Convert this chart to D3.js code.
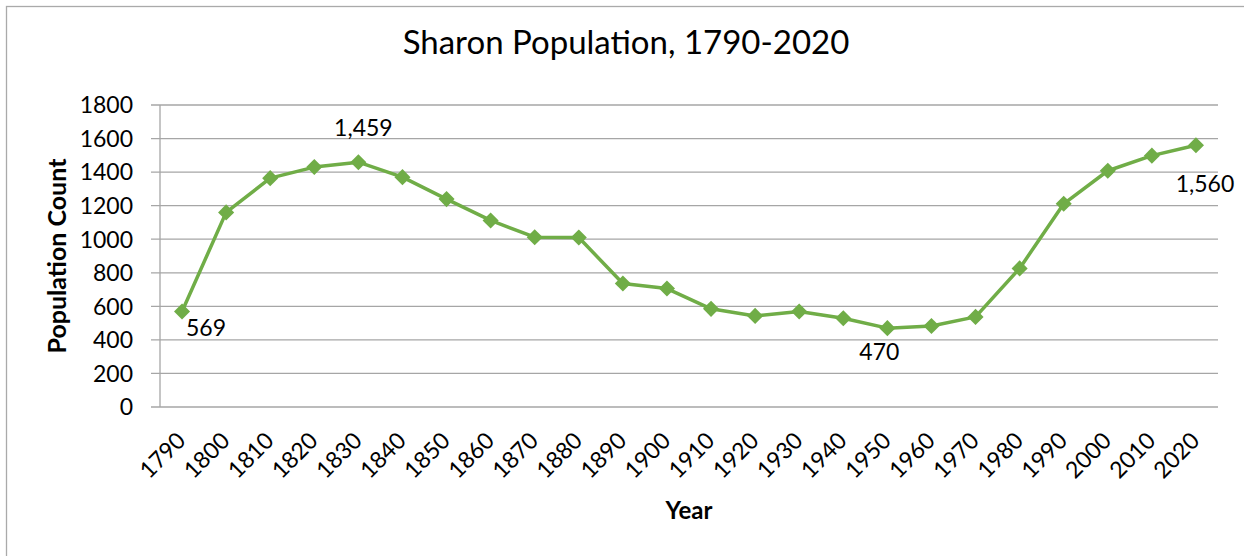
<!DOCTYPE html>
<html>
<head>
<meta charset="utf-8">
<script src="https://cdn.jsdelivr.net/npm/d3@7"></script>
<style>
  body { margin: 0; background: #fff; }
  text { font-family: Lato, "Open Sans", sans-serif; fill: #000; }
</style>
</head>
<body>
<svg id="chart"></svg>
<script>
// data
const years = ['1790', '1800', '1810', '1820', '1830', '1840', '1850', '1860', '1870', '1880', '1890', '1900',
  '1910', '1920', '1930', '1940', '1950', '1960', '1970', '1980', '1990', '2000', '2010', '2020'];
const population = [569, 1160, 1364, 1430, 1459, 1370, 1239, 1112, 1012, 1010, 736, 706,
  585, 543, 569, 529, 470, 483, 537, 826, 1211, 1408, 1498, 1560];
const yTicks = [0, 200, 400, 600, 800, 1000, 1200, 1400, 1600, 1800];
const labelled = ['1790', '1830', '1950', '2020'];

const width = 1244;
const height = 556;
const green = '#70ad47';

const svg = d3.select('#chart')
  .attr('width', width)
  .attr('height', height);

// chart border
svg.append('rect')
  .attr('x', 6.5).attr('y', 6.5)
  .attr('width', width + 20).attr('height', height + 20)
  .attr('fill', 'none')
  .attr('stroke', '#aaaaaa')
  .attr('stroke-width', 1.3);

const plot = { left: 160, right: 1218, top: 105, bottom: 407 };

const x = d3.scaleBand()
  .domain(years)
  .range([plot.left, plot.right]);

const y = d3.scaleLinear()
  .domain([0, 1800])
  .range([plot.bottom, plot.top]);

// gridlines + y ticks
svg.append('g')
  .selectAll('line')
  .data(yTicks)
  .enter()
  .append('line')
  .attr('x1', plot.left - 9)
  .attr('x2', plot.right)
  .attr('y1', (d) => y(d))
  .attr('y2', (d) => y(d))
  .attr('stroke', '#a6a6a6')
  .attr('stroke-width', 1.3);

svg.append('line')
  .attr('x1', plot.left).attr('x2', plot.left)
  .attr('y1', plot.top).attr('y2', plot.bottom)
  .attr('stroke', '#a6a6a6')
  .attr('stroke-width', 1.3);

svg.append('g')
  .selectAll('text')
  .data(yTicks)
  .enter()
  .append('text')
  .attr('x', 133)
  .attr('y', (d) => y(d))
  .attr('dy', '0.36em')
  .style('text-anchor', 'end')
  .style('font-size', '23px')
  .text((d) => d);

// x tick labels, rotated
svg.append('g')
  .selectAll('text')
  .data(years)
  .enter()
  .append('text')
  .attr('transform', (d) => `translate(${x(d) + x.bandwidth() / 2 + 5}, 442) rotate(-45)`)
  .style('text-anchor', 'end')
  .style('font-size', '23px')
  .text((d) => d);

// line + markers
const cx = (i) => x(years[i]) + x.bandwidth() / 2;
const line = d3.line()
  .x((d, i) => cx(i))
  .y((d) => y(d));

svg.append('path')
  .datum(population)
  .attr('d', line)
  .attr('fill', 'none')
  .attr('stroke', green)
  .attr('stroke-width', 3.5)
  .attr('stroke-linejoin', 'round');

svg.append('g')
  .selectAll('path')
  .data(population)
  .enter()
  .append('path')
  .attr('d', d3.symbol().type(d3.symbolDiamond2).size(165))
  .attr('transform', (d, i) => `translate(${cx(i)}, ${y(d)})`)
  .attr('fill', green);

// data labels
const labelOffset = { '1790': [24, 16], '1830': [5, -34], '1950': [-8, 24], '2020': [9, 38] };
svg.append('g')
  .selectAll('text')
  .data(labelled)
  .enter()
  .append('text')
  .attr('x', (d) => cx(years.indexOf(d)) + labelOffset[d][0])
  .attr('y', (d) => y(population[years.indexOf(d)]) + labelOffset[d][1])
  .attr('dy', '0.36em')
  .style('text-anchor', 'middle')
  .style('font-size', '23px')
  .text((d) => d3.format(',')(population[years.indexOf(d)]));

// titles
svg.append('text')
  .attr('x', 626).attr('y', 54)
  .style('text-anchor', 'middle')
  .style('font-size', '33px')
  .text('Sharon Population, 1790-2020');

svg.append('text')
  .attr('x', (plot.left + plot.right) / 2).attr('y', 519)
  .style('text-anchor', 'middle')
  .style('font-size', '24px')
  .style('font-weight', 'bold')
  .text('Year');

svg.append('text')
  .attr('transform', `translate(66, ${(plot.top + plot.bottom) / 2}) rotate(-90)`)
  .style('text-anchor', 'middle')
  .style('font-size', '25px')
  .style('font-weight', 'bold')
  .text('Population Count');
</script>
</body>
</html>
